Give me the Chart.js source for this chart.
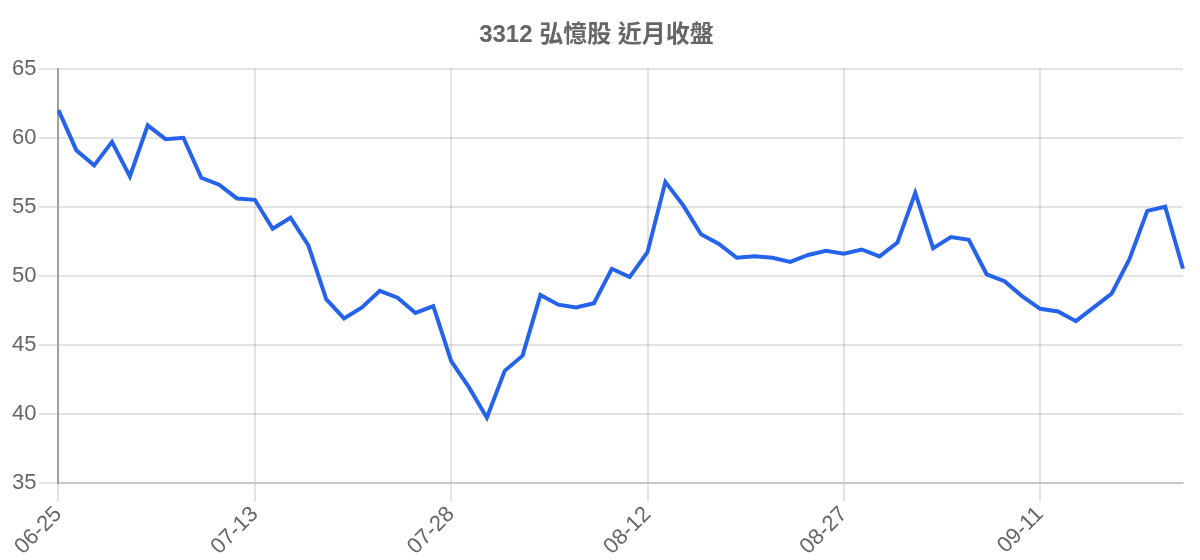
<!DOCTYPE html>
<html>
<head>
<meta charset="utf-8">
<script src="https://cdn.jsdelivr.net/npm/chart.js@4/dist/chart.umd.min.js"></script>
<style>
  body { margin: 0; background: #fff; }
  #wrap { width: 1200px; height: 560px; }
</style>
</head>
<body>
<div id="wrap"><canvas id="chart"></canvas></div>
<script>
// trading days (MM-DD)
const dates = [
  "06-25","06-26","06-27","06-30","07-01","07-02","07-03","07-06","07-07","07-08","07-10","07-13",
  "07-14","07-15","07-16","07-17","07-20","07-21","07-22","07-23","07-24","07-27","07-28",
  "07-29","07-30","07-31","08-03","08-04","08-05","08-06","08-07","08-10","08-11","08-12",
  "08-13","08-14","08-17","08-18","08-19","08-20","08-21","08-24","08-25","08-26","08-27",
  "08-28","08-31","09-01","09-02","09-03","09-04","09-07","09-08","09-09","09-10","09-11",
  "09-14","09-15","09-16","09-17","09-18","09-21","09-22","09-23"
];

// closing price
const closes = [
  62.0, 59.1, 58.0, 59.7, 57.2, 60.9, 59.9, 60.0, 57.1, 56.6, 55.6, 55.5,
  53.4, 54.2, 52.2, 48.3, 46.9, 47.7, 48.9, 48.4, 47.3, 47.8, 43.8,
  41.9, 39.7, 43.1, 44.2, 48.6, 47.9, 47.7, 48.0, 50.5, 49.9, 51.7,
  56.8, 55.1, 53.0, 52.3, 51.3, 51.4, 51.3, 51.0, 51.5, 51.8, 51.6,
  51.9, 51.4, 52.4, 56.0, 52.0, 52.8, 52.6, 50.1, 49.6, 48.5, 47.6,
  47.4, 46.7, 47.7, 48.7, 51.2, 54.7, 55.0, 50.5
];

const yMin = 35, yMax = 65, yStep = 5;
const chartTitle = "3312 弘憶股 近月收盤";

const FONT = "'Liberation Sans', Arial, 'Noto Sans CJK TC', sans-serif";

window.onload = () => {
    const ctx = document.getElementById('chart').getContext('2d');
    new Chart(ctx, {
        type: 'line',
        data: {
            labels: dates,
            datasets: [{
                label: chartTitle,
                data: closes,
                borderColor: "#2563eb",
                backgroundColor: "#2563eb",
                borderWidth: 4,
                pointRadius: 0,
                tension: 0,
                fill: false
            }]
        },
        options: {
            responsive: true,
            maintainAspectRatio: false,
            animation: false,
            layout: { padding: { left: 10, right: 17, top: 0, bottom: 0 } },
            plugins: {
                legend: { display: false },
                tooltip: { enabled: false },
                title: {
                    display: true,
                    text: chartTitle,
                    color: "#666",
                    font: { family: "'Liberation Sans', 'Noto Sans CJK TC', sans-serif", size: 24, weight: 'bold' },
                    padding: { top: 21, bottom: 19 }
                }
            },
            scales: {
                x: {
                    grid: { color: "rgba(0,0,0,0.11)", lineWidth: 2, tickLength: 19 },
                    border: { color: "rgba(0,0,0,0.12)", width: 2 },
                    ticks: {
                        color: "#666",
                        font: { family: FONT, size: 22 },
                        autoSkip: true,
                        maxTicksLimit: 6,
                        minRotation: 45,
                        maxRotation: 45,
                        padding: 0
                    }
                },
                y: {
                    min: yMin,
                    max: yMax,
                    grid: { color: "rgba(0,0,0,0.11)", lineWidth: 2, tickLength: 20 },
                    border: { color: "rgba(0,0,0,0.3)", width: 2 },
                    ticks: {
                        stepSize: yStep,
                        color: "#666",
                        font: { family: FONT, size: 22 },
                        padding: 2
                    }
                }
            }
        }
    });
}
</script>
</body>
</html>
